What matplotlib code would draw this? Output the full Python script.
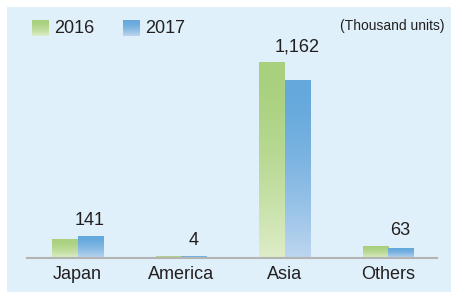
import numpy as np
import matplotlib
matplotlib.use("Agg")
import matplotlib.pyplot as plt
from matplotlib.patches import Rectangle

plt.rcParams['font.family'] = ['Liberation Sans', 'DejaVu Sans']

regions = ['Japan', 'America', 'Asia', 'Others']
years = ['2016', '2017']
sales_2016 = [121, 5, 1280, 75]
sales_2017 = [141, 4, 1162, 63]
labels_2017 = ['141', '4', '1,162', '63']
unit_note = '(Thousand units)'

W, H = 451, 292
BG = '#dff0fa'
TXT = '#231f20'
green_top, green_bot = np.array([168, 208, 125]) / 255, np.array([222, 237, 200]) / 255
blue_top, blue_bot = np.array([100, 168, 220]) / 255, np.array([190, 214, 240]) / 255


def grad_img(top, bot, n=100):
    t = np.linspace(0, 1, n) ** 1.6  # 0 at top -> 1 at bottom
    img = top[None, :] * (1 - t[:, None]) + bot[None, :] * t[:, None]
    return img[:, None, :]


fig = plt.figure(figsize=(W / 100, H / 100), dpi=100)
fig.patch.set_facecolor('white')
fig.patches.append(Rectangle((7 / W, 0), 1, (H - 7) / H, transform=fig.transFigure,
                             facecolor=BG, edgecolor='none', zorder=-10))

ax = fig.add_axes([27 / W, (H - 257.7) / H, 410 / W, 250.7 / H])
ax.set_facecolor('none')
for s in ['top', 'right', 'left']:
    ax.spines[s].set_visible(False)
ax.spines['bottom'].set_color('#b4b4b4')
ax.spines['bottom'].set_linewidth(1.5)
ax.set_yticks([])
ax.set_xticks(range(len(regions)))
ax.set_xticklabels(regions, fontsize=13, color=TXT)
ax.tick_params(axis='x', length=0, pad=6)

bw = 0.242
x = np.arange(len(regions))
for vals, off, top, bot in [(sales_2016, -bw / 2, green_top, green_bot),
                            (sales_2017, bw / 2, blue_top, blue_bot)]:
    for xi, v in zip(x, vals):
        h = max(v, 12)
        ax.imshow(grad_img(top, bot), extent=(xi + off - bw / 2, xi + off + bw / 2, 0, h),
                  aspect='auto', interpolation='bilinear', zorder=2)
ax.set_xlim(-0.488, 3.473)
ax.set_ylim(0, 1641)

for xi, a, b, lab in zip(x, sales_2016, sales_2017, labels_2017):
    ax.text(xi + bw / 2, max(a, b, 12) + 45, lab, ha='center', va='bottom',
            fontsize=13, color=TXT)

# legend
for (lx, top, bot), name in zip([(32, green_top, green_bot), (123, blue_top, blue_bot)], years):
    lax = fig.add_axes([lx / W, 1 - 36 / H, 17 / W, 16 / H])
    lax.imshow(grad_img(top, bot), aspect='auto', interpolation='bilinear')
    lax.axis('off')
    fig.text((lx + 22) / W, 1 - 28.5 / H, name, ha='left', va='center', fontsize=13, color=TXT)

fig.text(445 / W, 1 - 26 / H, unit_note, ha='right', va='center', fontsize=10, color=TXT)

fig.savefig('out.png', dpi=100, facecolor=fig.get_facecolor())
